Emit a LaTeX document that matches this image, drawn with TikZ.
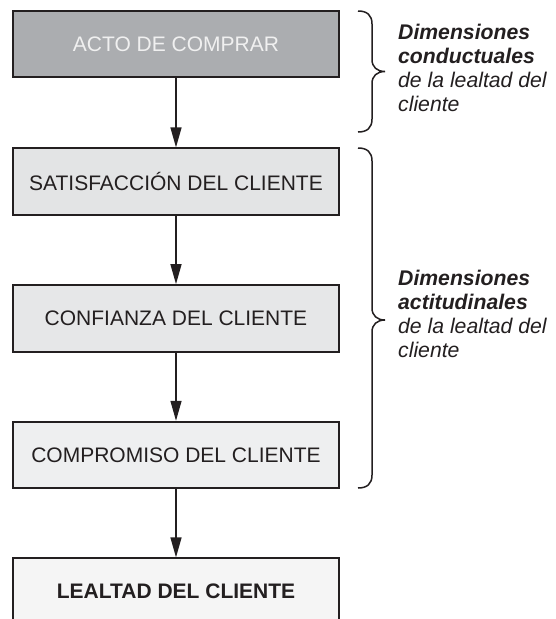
\documentclass[tikz,border=0pt]{standalone}
\usepackage{fontspec}
\setmainfont{Liberation Sans}
\usetikzlibrary{arrows.meta}
\definecolor{ink}{HTML}{231F20}
\definecolor{fillA}{HTML}{ABADB0}
\definecolor{fillB}{HTML}{E3E4E5}
\definecolor{fillC}{HTML}{E6E7E8}
\definecolor{fillD}{HTML}{EEEFF0}
\definecolor{fillE}{HTML}{F5F5F5}
\tikzset{
  stepbox/.style={draw=ink, line width=1.8pt, minimum width=326pt, minimum height=66.6pt,
    inner sep=0pt, text=ink, font={\fontsize{21}{24}\selectfont}},
  flow/.style={draw=ink, line width=1.4pt, -{Triangle[length=20pt,width=11pt]}},
  brace/.style={draw=ink, line width=1.5pt},
  sidetext/.style={anchor=north west, inner sep=0pt, align=left, text=ink,
    font={\fontsize{21.2}{24}\selectfont\itshape}}
}
\begin{document}
\begin{tikzpicture}[x=1pt,y=-1pt]
\useasboundingbox (0,0) rectangle (555,619);
\clip (0,0) rectangle (555,619);
% boxes
\node[stepbox, fill=fillA, text=white!94!black] (b1) at (176,44) {ACTO DE COMPRAR};
\node[stepbox, fill=fillB] (b2) at (176,181.6) {SATISFACCIÓN DEL CLIENTE};
\node[stepbox, fill=fillC] (b3) at (176,318.3) {CONFIANZA DEL CLIENTE};
\node[stepbox, fill=fillD] (b4) at (176,455) {COMPROMISO DEL CLIENTE};
\node[stepbox, fill=fillE, font={\fontsize{21}{24}\selectfont\bfseries}] (b5) at (176,591.6) {LEALTAD DEL CLIENTE};
% connectors
\draw[flow] (b1) -- (b2);
\draw[flow] (b2) -- (b3);
\draw[flow] (b3) -- (b4);
\draw[flow] (b4) -- (b5);
% braces
\draw[brace] (358,11) .. controls (367,11) and (372,15) .. (372,24)
  -- (372,59.5) .. controls (372,67) and (377,71.5) .. (385,71.5)
  .. controls (377,71.5) and (372,76) .. (372,83.5)
  -- (372,119) .. controls (372,128) and (367,132) .. (358,132);
\draw[brace] (358,148) .. controls (367,148) and (372,152) .. (372,161)
  -- (372,308) .. controls (372,315.5) and (377,320) .. (385,320)
  .. controls (377,320) and (372,324.5) .. (372,332)
  -- (372,475) .. controls (372,484) and (367,488) .. (358,488);
% side texts
\node[sidetext] (t1) at (398,23.5) {\textbf{Dimensiones}\\\textbf{conductuales}\\de la lealtad del\\cliente};
\node[sidetext] (t2) at (398,270) {\textbf{Dimensiones}\\\textbf{actitudinales}\\de la lealtad del\\cliente};
\end{tikzpicture}
\end{document}
